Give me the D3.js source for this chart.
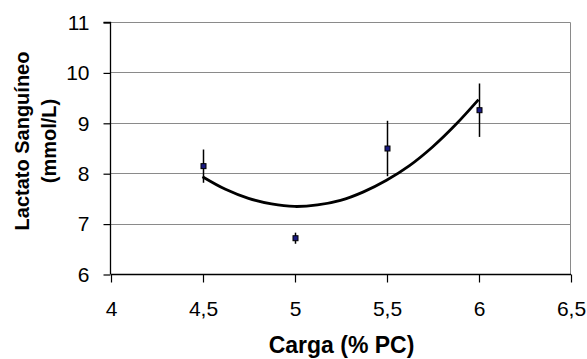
<!DOCTYPE html>
<html>
<head>
<meta charset="utf-8">
<script src="https://cdn.jsdelivr.net/npm/d3@7"></script>
<style>
html,body{margin:0;padding:0;background:#fff;}
svg{display:block;font-family:"Liberation Sans",Arial,sans-serif;}
</style>
</head>
<body>
<svg id="chart" width="587" height="359"></svg>
<script>
// Data
const cargas = [4.5, 5, 5.5, 6];
const lactato = [8.14, 6.71, 8.49, 9.25];
const erro = [0.33, 0.11, 0.55, 0.53];
// Trend line (polynomial) values
const trendX = [4.5, 4.625, 4.75, 4.875, 5, 5.125, 5.25, 5.375, 5.5, 5.625, 5.75, 5.875, 6];
const trendY = [7.93, 7.68, 7.50, 7.39, 7.34, 7.37, 7.46, 7.63, 7.86, 8.15, 8.52, 8.96, 9.46];
const xTicks = [4, 4.5, 5, 5.5, 6, 6.5];
const yTicks = [6, 7, 8, 9, 10, 11];
const xTitle = "Carga (% PC)";
const yTitle = ["Lactato Sanguíneo", "(mmol/L)"];

const svg = d3.select("#chart");
const pLeft = 110.5, pRight = 570.5, pTop = 22, pBottom = 274;
const x = d3.scaleLinear().domain([4, 6.5]).range([pLeft, pRight]);
const y = d3.scaleLinear().domain([6, 11]).range([pBottom, pTop]);
const fmt = d => String(d).replace(".", ",");

// gridlines
svg.append("g").selectAll("line").data(yTicks.filter(d => d > 6)).join("line")
  .attr("x1", pLeft).attr("x2", pRight)
  .attr("y1", d => Math.round(y(d)) + 0.5).attr("y2", d => Math.round(y(d)) + 0.5)
  .attr("stroke", "#8a8a8a").attr("stroke-width", 1);
// right border
svg.append("line").attr("x1", pRight).attr("x2", pRight).attr("y1", pTop + 0.5).attr("y2", pBottom)
  .attr("stroke", "#8a8a8a").attr("stroke-width", 1);

// axes
const yAxis = d3.axisLeft(y).tickValues(yTicks).tickSize(7).tickPadding(14).tickFormat(fmt);
const gy = svg.append("g").attr("transform", `translate(${pLeft},0.5)`).call(yAxis);
const xAxis = d3.axisBottom(x).tickValues(xTicks).tickSize(8).tickPadding(19).tickFormat(fmt);
const gx = svg.append("g").attr("transform", `translate(0.5,${Math.round(y(6)) + 0.5})`).call(xAxis);
[gx, gy].forEach(g => {
  g.select(".domain").attr("stroke", "#000").attr("stroke-width", 1.3);
  g.selectAll(".tick line").attr("stroke", "#000").attr("stroke-width", 1.2);
  g.selectAll(".tick text").attr("fill", "#000").attr("font-size", 21)
    .attr("font-family", "Liberation Sans, Arial, sans-serif");
});
gy.select(".domain").attr("d", `M-7,${pTop}H0V${pBottom}`);
gx.select(".domain").attr("d", `M${pLeft},0H${pRight}`);

// trend line
const trend = trendX.map((d, i) => [d, trendY[i]]);
svg.append("path").datum(trend)
  .attr("fill", "none").attr("stroke", "#000").attr("stroke-width", 2.8)
  .attr("stroke-linejoin", "round")
  .attr("d", d3.line().x(d => x(d[0])).y(d => y(d[1])).curve(d3.curveCatmullRom));

// error bars
const pts = cargas.map((c, i) => ({c, v: lactato[i], e: erro[i]}));
svg.append("g").selectAll("line").data(pts).join("line")
  .attr("x1", d => Math.round(x(d.c)) + 0.5).attr("x2", d => Math.round(x(d.c)) + 0.5)
  .attr("y1", d => y(d.v + d.e)).attr("y2", d => y(d.v - d.e))
  .attr("stroke", "#000").attr("stroke-width", 1.5);

// markers
svg.append("g").selectAll("rect").data(pts).join("rect")
  .attr("x", d => Math.round(x(d.c)) + 0.5 - 2.5).attr("y", d => y(d.v) - 2.5)
  .attr("width", 5).attr("height", 5)
  .attr("fill", "#1a1a80").attr("stroke", "#000").attr("stroke-width", 1);

// titles
svg.append("text").attr("x", (pLeft + pRight) / 2 + 1).attr("y", 353)
  .attr("text-anchor", "middle").attr("font-size", 23).attr("font-weight", "bold")
  .text(xTitle);
const yt = svg.append("text").attr("transform", "translate(29,141) rotate(-90)")
  .attr("text-anchor", "middle").attr("font-size", 20).attr("font-weight", "bold");
yt.append("tspan").attr("x", 0).attr("dy", 0).text(yTitle[0]);
yt.append("tspan").attr("x", 0).attr("dy", 27).text(yTitle[1]);
</script>
</body>
</html>
